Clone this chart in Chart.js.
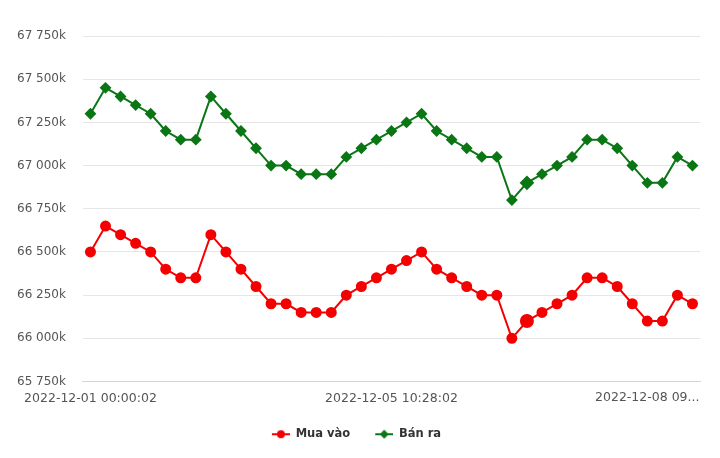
<!DOCTYPE html>
<html>
<head>
<meta charset="utf-8">
<script src="https://cdn.jsdelivr.net/npm/chart.js@4.4.0/dist/chart.umd.min.js"></script>
<style>
html,body{margin:0;padding:0;background:#fff;}
#wrap{width:720px;height:458px;}
</style>
</head>
<body>
<div id="wrap"><canvas id="c" width="720" height="458"></canvas></div>
<script>
// ---- data (values in thousands) ----
const seriesNames = ['Mua vào', 'Bán ra'];
const buyValues = [66500, 66650, 66600, 66550, 66500, 66400, 66350, 66350, 66600, 66500, 66400, 66300, 66200, 66200, 66150, 66150, 66150, 66250, 66300, 66350, 66400, 66450, 66500, 66400, 66350, 66300, 66250, 66250, 66000, 66100, 66150, 66200, 66250, 66350, 66350, 66300, 66200, 66100, 66100, 66250, 66200];
const sellValues = [67300, 67450, 67400, 67350, 67300, 67200, 67150, 67150, 67400, 67300, 67200, 67100, 67000, 67000, 66950, 66950, 66950, 67050, 67100, 67150, 67200, 67250, 67300, 67200, 67150, 67100, 67050, 67050, 66800, 66900, 66950, 67000, 67050, 67150, 67150, 67100, 67000, 66900, 66900, 67050, 67000];
const categories = buyValues.map((_, i) => String(i + 1));
const tickIndexes = [0, 20, 40];
const tickTexts = ['2022-12-01 00:00:02', '2022-12-05 10:28:02', '2022-12-08 09...'];
const yMin = 65750, yMax = 67750, yStep = 250;
const highlightIndex = 29;

const RED = '#f40000';
const GREEN = '#0a7614';

function fmt(v){ return String(v).replace(/\B(?=(\d{3})+(?!\d))/g, ' ') + 'k'; }

const ICON_W = 31;
function legendIcon(color, shape){
  const c = document.createElement('canvas');
  c.width = ICON_W; c.height = 10;
  const x = c.getContext('2d');
  const s = ICON_W - 18, m = s + 9;
  x.strokeStyle = color; x.fillStyle = color; x.lineWidth = 2;
  x.beginPath(); x.moveTo(s,5); x.lineTo(ICON_W,5); x.stroke();
  x.beginPath();
  if (shape === 'circle') { x.arc(m,5,4,0,Math.PI*2); }
  else { x.moveTo(m,0.5); x.lineTo(m+4.5,5); x.lineTo(m,9.5); x.lineTo(m-4.5,5); x.closePath(); }
  x.fill();
  return c;
}
const icons = [legendIcon(RED,'circle'), legendIcon(GREEN,'diamond')];

const radii = buyValues.map((_, i) => i === highlightIndex ? 6 : 4.5);

const lastLabelPlugin = {
  id: 'lastLabel',
  afterDraw(chart){
    const xs = chart.scales.x;
    const ctx = chart.ctx;
    const i = tickIndexes.length - 1;
    const px = xs.getPixelForValue(tickIndexes[i]);
    ctx.save();
    ctx.font = '12.5px "DejaVu Sans"';
    ctx.fillStyle = '#555';
    ctx.textAlign = 'right';
    ctx.textBaseline = 'top';
    ctx.fillText(tickTexts[i], px + 7, xs.top + 10);
    ctx.restore();
  }
};

new Chart(document.getElementById('c'), {
  type: 'line',
  data: {
    labels: categories,
    datasets: [
      { label: seriesNames[0], data: buyValues, borderColor: RED, backgroundColor: RED,
        borderWidth: 2, pointRadius: radii, pointHoverRadius: radii, pointStyle: 'circle', tension: 0 },
      { label: seriesNames[1], data: sellValues, borderColor: GREEN, backgroundColor: GREEN,
        borderWidth: 2, pointRadius: radii, pointHoverRadius: radii, pointStyle: 'rectRot', tension: 0 }
    ]
  },
  options: {
    responsive: false,
    animation: false,
    layout: { padding: { left: 0, right: 20, top: 36, bottom: 8 } },
    plugins: {
      tooltip: { enabled: false },
      legend: {
        position: 'bottom',
        labels: {
          usePointStyle: true,
          pointStyleWidth: ICON_W,
          padding: 12,
          color: '#333',
          font: { family: '"DejaVu Sans"', size: 11.5, weight: 'bold' },
          generateLabels(chart){
            return chart.data.datasets.map((d, i) => ({
              text: d.label, pointStyle: icons[i], fillStyle: d.borderColor,
              strokeStyle: d.borderColor, lineWidth: 0, hidden: false, datasetIndex: i, fontColor: '#333'
            }));
          }
        }
      }
    },
    scales: {
      x: {
        offset: true,
        grid: { display: false, drawTicks: false },
        border: { color: '#ccd6eb', width: 1 },
        ticks: {
          autoSkip: false, maxRotation: 0, padding: 10,
          color: '#555', font: { family: '"DejaVu Sans"', size: 12.5 },
          callback(v, i){
            const k = tickIndexes.indexOf(i);
            if (k < 0) return null;
            return k === tickIndexes.length - 1 ? '' : tickTexts[k];
          }
        }
      },
      y: {
        min: yMin, max: yMax,
        grid: { color: ctx => ctx.tick && ctx.tick.value === yMin ? '#ccd6eb' : '#e6e6e6', drawTicks: false },
        border: { display: false },
        ticks: {
          stepSize: yStep, padding: 17,
          color: '#555', font: { family: '"DejaVu Sans"', size: 12 },
          callback: v => fmt(v)
        }
      }
    }
  },
  plugins: [lastLabelPlugin]
});
</script>
</body>
</html>
